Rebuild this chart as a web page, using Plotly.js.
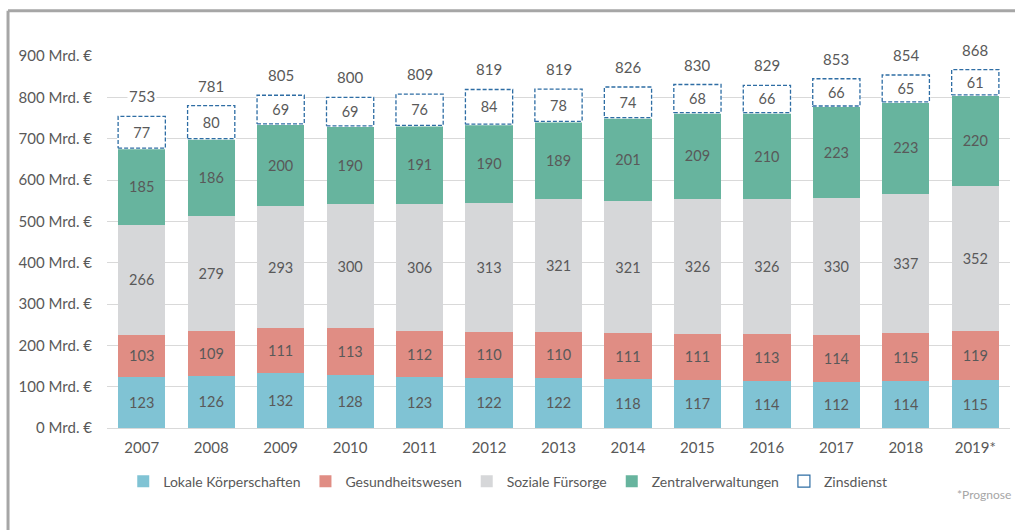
<!DOCTYPE html>
<html>
<head>
<meta charset="utf-8">
<script src="https://cdn.plot.ly/plotly-3.0.1.min.js"></script>
<style>
html,body{margin:0;padding:0;background:#fff;}
#chart{width:1015px;height:530px;}
</style>
</head>
<body>
<div id="chart"></div>
<script>
const years = ['2007','2008','2009','2010','2011','2012','2013','2014','2015','2016','2017','2018','2019*'];
const lokale = [123,126,132,128,123,122,122,118,117,114,112,114,115];
const gesundheit = [103,109,111,113,112,110,110,111,111,113,114,115,119];
const soziale = [266,279,293,300,306,313,321,321,326,326,330,337,352];
const zentral = [185,186,200,190,191,190,189,201,209,210,223,223,220];
const zins = [77,80,69,69,76,84,78,74,68,66,66,65,61];
const totals = [753,781,805,800,809,819,819,826,830,829,853,854,868];
const seriesNames = ['Lokale Körperschaften','Gesundheitswesen','Soziale Fürsorge','Zentralverwaltungen','Zinsdienst'];

const FONT = 'Lato, "Open Sans", sans-serif';
const TXT = '#595959';
const BARW = 0.68;
const idx = years.map((_, i) => i);

function barTrace(name, vals, color, line) {
  return {
    type: 'bar', name: name, x: idx, y: vals, width: BARW,
    text: vals.map(String), textposition: 'inside', insidetextanchor: 'middle', textangle: 0,
    insidetextfont: {family: FONT, size: 14.5, color: TXT},
    marker: {color: color, line: line || {width: 0}},
    hoverinfo: 'skip'
  };
}

const traces = [
  barTrace(seriesNames[0], lokale, '#80c3d4'),
  barTrace(seriesNames[1], gesundheit, '#e08d84'),
  barTrace(seriesNames[2], soziale, '#d6d7d9'),
  barTrace(seriesNames[3], zentral, '#67b49e'),
  barTrace(seriesNames[4], zins, '#ffffff', {color: '#2e6da4', width: 1.2})
];

// dashed outline of the Zinsdienst boxes, from the data
const bx = [], by = [];
idx.forEach(i => {
  const b = lokale[i] + gesundheit[i] + soziale[i] + zentral[i];
  const t = b + zins[i];
  const l = i - BARW / 2, r = i + BARW / 2;
  bx.push(l, r, r, l, l, null);
  by.push(b, b, t, t, b, null);
});
traces.push({type: 'scatter', mode: 'lines', x: bx, y: by, showlegend: false, hoverinfo: 'skip',
  line: {color: '#ffffff', width: 2.2}});
traces.push({type: 'scatter', mode: 'lines', x: bx, y: by, showlegend: false, hoverinfo: 'skip',
  line: {color: '#2e6da4', width: 1.3, dash: '4px,2px'}});

const annotations = idx.map(i => ({
  x: i, y: lokale[i] + gesundheit[i] + soziale[i] + zentral[i] + zins[i],
  xref: 'x', yref: 'y', text: String(totals[i]), showarrow: false,
  yanchor: 'bottom', yshift: 9, bgcolor: '#ffffff',
  font: {family: FONT, size: 15, color: TXT}
}));
annotations.push({
  xref: 'paper', yref: 'paper', x: 1.003, y: -0.18, xanchor: 'right', yanchor: 'middle',
  text: '*Prognose', showarrow: false, font: {family: FONT, size: 12, color: '#a6a6a6'}
});

const layout = {
  width: 1015, height: 530,
  margin: {l: 107, r: 5, t: 56, b: 102, pad: 0},
  paper_bgcolor: '#ffffff', plot_bgcolor: '#ffffff',
  barmode: 'stack',
  font: {family: FONT, size: 14, color: TXT},
  showlegend: true,
  legend: {orientation: 'h', x: 0.018, xanchor: 'left', y: -0.144, yanchor: 'middle',
    traceorder: 'normal', font: {family: FONT, size: 14, color: TXT}},
  xaxis: {
    type: 'linear', range: [-0.5, 12.5], tickmode: 'array', tickvals: idx, ticktext: years,
    showgrid: false, zeroline: false, showline: false, ticks: '', ticklabelstandoff: 9,
    tickfont: {family: FONT, size: 15, color: TXT}, fixedrange: true
  },
  yaxis: {
    range: [0, 900], dtick: 100, tick0: 0, ticksuffix: ' Mrd. €',
    showgrid: true, gridcolor: '#d9d9d9', gridwidth: 1,
    zeroline: true, zerolinecolor: '#d9d9d9', zerolinewidth: 1,
    showline: false, ticks: '', ticklabelstandoff: 14,
    tickfont: {family: FONT, size: 15, color: TXT}, fixedrange: true
  },
  annotations: annotations,
  shapes: [
    {type: 'line', xref: 'paper', yref: 'paper', x0: -0.1096, x1: -0.1096, y0: -0.3, y1: 1.1218,
      line: {color: '#a6a6a6', width: 3}},
    {type: 'line', xref: 'paper', yref: 'paper', x0: -0.1096, x1: 1.02, y0: 1.1218, y1: 1.1218,
      line: {color: '#a6a6a6', width: 3}}
  ]
};

Plotly.newPlot('chart', traces, layout, {displayModeBar: false, staticPlot: true});
</script>
</body>
</html>
